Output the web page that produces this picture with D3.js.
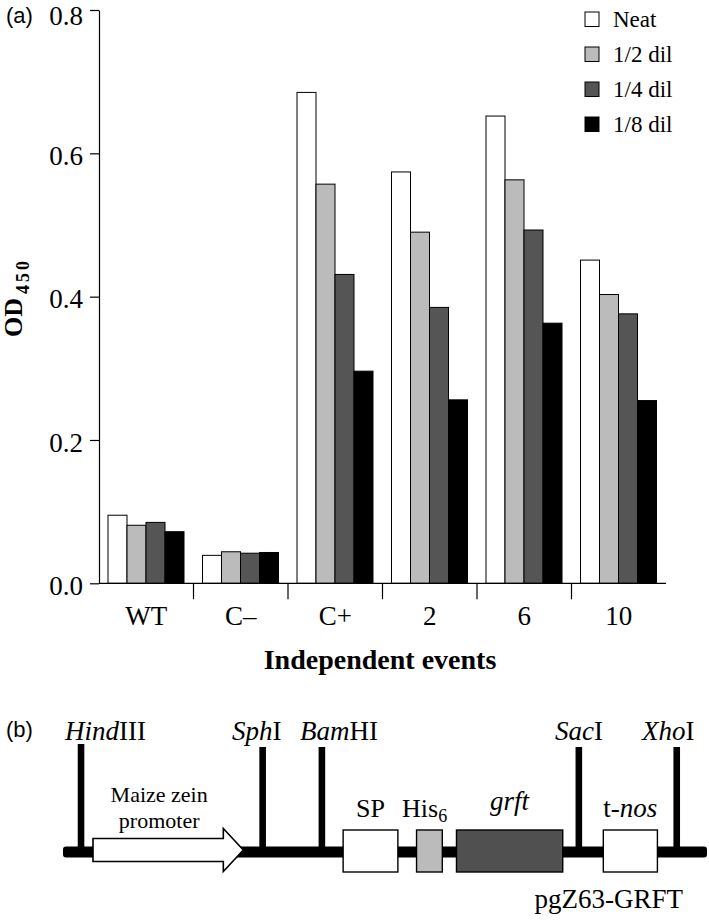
<!DOCTYPE html>
<html>
<head>
<meta charset="utf-8">
<script src="https://cdn.jsdelivr.net/npm/d3@7"></script>
<style>
  html, body { margin: 0; padding: 0; background: #fff; }
  svg { display: block; }
</style>
</head>
<body>
<script>
// ---------- chart data ----------
const categories = ["WT", "C\u2013", "C+", "2", "6", "10"];
const series = ["Neat", "1/2 dil", "1/4 dil", "1/8 dil"];
const neatValues    = [0.095, 0.039, 0.685, 0.574, 0.652, 0.451];
const halfValues    = [0.081, 0.044, 0.557, 0.490, 0.563, 0.403];
const quarterValues = [0.085, 0.042, 0.431, 0.385, 0.493, 0.376];
const eighthValues  = [0.072, 0.043, 0.296, 0.256, 0.363, 0.255];
const yTicks = [0, 0.2, 0.4, 0.6, 0.8];

// ---------- construct (panel b) content ----------
const siteNames = [["Hind", "III"], ["Sph", "I"], ["Bam", "HI"], ["Sac", "I"], ["Xho", "I"]];
const sitePos = [2.8, 31.0, 40.2, 80.1, 95.3];           // schematic units 0..100
const elementNames = ["promoter", "SP", "His6", "grft", "t-nos"];
const elementStart = [4.66, 43.5, 54.9, 61.1, 83.9];
const elementEnd   = [28.0, 52.0, 58.9, 77.6, 92.3];

// ---------- styling ----------
const serif = "'Liberation Serif', 'Times New Roman', serif";
const sans = "'Liberation Sans', Arial, sans-serif";
const seriesColors = ["#ffffff", "#bbbbbb", "#555555", "#000000"];

const W = 709, H = 920;
const svg = d3.select("body").append("svg").attr("width", W).attr("height", H);

// ---------- panel a ----------
const x = d3.scaleBand().domain(categories).range([99, 666]).padding(0);
const xs = d3.scaleBand().domain(series).range([9, 85]).padding(0);
const y = d3.scaleLinear().domain([0, 0.8]).range([583.3, 10]);

const valuesBySeries = [neatValues, halfValues, quarterValues, eighthValues];
const rows = [];
categories.forEach((c, i) => series.forEach((s, j) => rows.push({ c, s, j, v: valuesBySeries[j][i] })));

svg.append("g").selectAll("rect").data(rows).join("rect")
  .attr("x", d => x(d.c) + xs(d.s))
  .attr("width", xs.bandwidth())
  .attr("y", d => y(d.v))
  .attr("height", d => y(0) - y(d.v))
  .attr("fill", d => seriesColors[d.j])
  .attr("stroke", "#000")
  .attr("stroke-width", 1);

// y axis
const yAxis = svg.append("g").attr("transform", `translate(${x.range()[0]},0)`)
  .call(d3.axisLeft(y).tickValues(yTicks).tickFormat(d3.format(".1f")).tickSize(9).tickSizeOuter(0).tickPadding(7));
yAxis.attr("font-family", serif).attr("font-size", 27);
yAxis.select(".domain").attr("stroke", "#000").attr("stroke-width", 1.2);
yAxis.selectAll(".tick line").attr("stroke", "#000").attr("stroke-width", 1.2);
yAxis.selectAll(".tick text").attr("font-family", serif).attr("font-size", 27).attr("fill", "#000")
  .attr("dy", d => d === 0.8 ? "0.54em" : "0.42em");

// x axis
const xAxisG = svg.append("g").attr("transform", `translate(0,${y(0)})`);
xAxisG.append("line").attr("x1", x.range()[0]).attr("x2", x.range()[1]).attr("stroke", "#000").attr("stroke-width", 1.2);
xAxisG.selectAll("line.tk").data(categories.slice(1)).join("line").attr("class", "tk")
  .attr("x1", d => x(d)).attr("x2", d => x(d)).attr("y1", 0).attr("y2", 16)
  .attr("stroke", "#000").attr("stroke-width", 1.2);
xAxisG.selectAll("text").data(categories).join("text")
  .attr("x", d => x(d) + x.bandwidth() / 2)
  .attr("y", 42)
  .attr("text-anchor", "middle")
  .attr("font-family", serif).attr("font-size", 27)
  .text(d => d);

// axis titles
svg.append("text").attr("x", 380).attr("y", 669).attr("text-anchor", "middle")
  .attr("font-family", serif).attr("font-size", 28).attr("font-weight", "bold")
  .text("Independent events");

const yTitle = svg.append("text").attr("transform", "translate(22,337) rotate(-90)")
  .attr("font-family", serif).attr("font-size", 26).attr("font-weight", "bold");
yTitle.append("tspan").text("OD");
yTitle.append("tspan").attr("dx", 4).attr("dy", 7).attr("font-size", 18).attr("letter-spacing", 3).text("450");

// legend
const legend = svg.append("g");
series.forEach((s, j) => {
  const by = 26.7 + 35 * j;
  legend.append("rect").attr("x", 585).attr("y", by - 14.7).attr("width", 14).attr("height", 14.5)
    .attr("fill", seriesColors[j]).attr("stroke", "#000").attr("stroke-width", 1);
  legend.append("text").attr("x", 613).attr("y", by).attr("font-family", serif).attr("font-size", 23).text(s);
});

// panel label
svg.append("text").attr("x", 6).attr("y", 23).attr("font-family", sans).attr("font-size", 22).text("(a)");

// ---------- panel b ----------
svg.append("text").attr("x", 6).attr("y", 737).attr("font-family", sans).attr("font-size", 22).text("(b)");

const cx = d3.scaleLinear().domain([0, 100]).range([63, 707]);
const lineY = 852;

// backbone
svg.append("rect").attr("x", cx(0)).attr("y", lineY - 5.5).attr("width", cx(100) - cx(0)).attr("height", 11)
  .attr("rx", 3).attr("fill", "#000");

// restriction sites
siteNames.forEach((nm, i) => {
  const sx = cx(sitePos[i]);
  const top = i === 0 ? 744 : 747;
  svg.append("rect").attr("x", sx - 3.3).attr("y", top).attr("width", 6.6).attr("height", lineY - top).attr("fill", "#000");
});
const siteLabelStart = [65, 232, 300, 555, 642];
siteNames.forEach((nm, i) => {
  const t = svg.append("text").attr("x", siteLabelStart[i]).attr("y", 740)
    .attr("font-family", serif).attr("font-size", 27);
  t.append("tspan").attr("font-style", "italic").text(nm[0]);
  t.append("tspan").text(nm[1]);
});

// promoter arrow
const aS = cx(elementStart[0]), aE = cx(elementEnd[0]);
const headW = 20, bodyH = 23, headH = 43, ac = 850;
svg.append("path")
  .attr("d", d3.line()([
    [aS, ac - bodyH / 2], [aE - headW, ac - bodyH / 2], [aE - headW, ac - headH / 2], [aE, ac],
    [aE - headW, ac + headH / 2], [aE - headW, ac + bodyH / 2], [aS, ac + bodyH / 2]
  ]) + "Z")
  .attr("fill", "#fff").attr("stroke", "#000").attr("stroke-width", 1.6);
svg.append("text").attr("x", (aS + aE) / 2 - 9).attr("y", 802).attr("text-anchor", "middle")
  .attr("font-family", serif).attr("font-size", 22).text("Maize zein");
svg.append("text").attr("x", (aS + aE) / 2 - 9).attr("y", 828).attr("text-anchor", "middle")
  .attr("font-family", serif).attr("font-size", 22).text("promoter");

// boxes
const boxFill = ["#ffffff", "#ffffff", "#bbbbbb", "#505050", "#ffffff"];
for (let i = 1; i < elementNames.length; i++) {
  svg.append("rect").attr("x", cx(elementStart[i])).attr("y", 830)
    .attr("width", cx(elementEnd[i]) - cx(elementStart[i])).attr("height", 42)
    .attr("fill", boxFill[i]).attr("stroke", "#000").attr("stroke-width", 1.4);
}
// box labels
svg.append("text").attr("x", (cx(elementStart[1]) + cx(elementEnd[1])) / 2).attr("y", 817)
  .attr("text-anchor", "middle").attr("font-family", serif).attr("font-size", 26).text("SP");
const his = svg.append("text").attr("x", 402).attr("y", 817).attr("font-family", serif).attr("font-size", 26);
his.append("tspan").text("His");
his.append("tspan").attr("dy", 5).attr("font-size", 18).text("6");
svg.append("text").attr("x", (cx(elementStart[3]) + cx(elementEnd[3])) / 2).attr("y", 810)
  .attr("text-anchor", "middle").attr("font-family", serif).attr("font-size", 27).attr("font-style", "italic").text("grft");
const tn = svg.append("text").attr("x", (cx(elementStart[4]) + cx(elementEnd[4])) / 2).attr("y", 817)
  .attr("text-anchor", "middle").attr("font-family", serif).attr("font-size", 27);
tn.append("tspan").text("t-");
tn.append("tspan").attr("font-style", "italic").text("nos");

svg.append("text").attr("x", 683).attr("y", 908).attr("text-anchor", "end")
  .attr("font-family", serif).attr("font-size", 27).text("pgZ63-GRFT");
</script>
</body>
</html>
